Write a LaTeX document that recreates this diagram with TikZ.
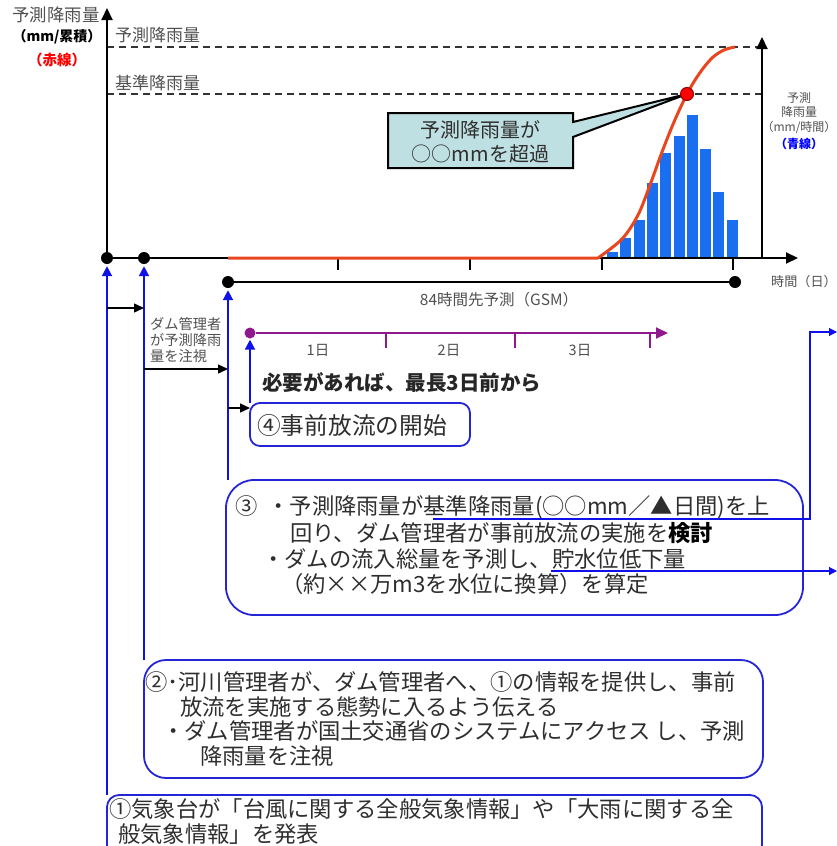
\documentclass[tikz,border=0pt]{standalone}
\usepackage{fontspec}
\setmainfont{Noto Sans CJK JP}
\usetikzlibrary{arrows.meta,calc}
\definecolor{txtc}{HTML}{2E2E2E}
\definecolor{lblc}{HTML}{505050}
\definecolor{redc}{HTML}{E8461E}
\definecolor{barc}{HTML}{1A6EF0}
\definecolor{arrb}{HTML}{1010E8}
\definecolor{boxb}{HTML}{2525D8}
\definecolor{purp}{HTML}{8E1A8E}
\definecolor{callf}{HTML}{BFE0E2}
\definecolor{dashc}{HTML}{333333}
\tikzset{
  bluebox/.style={draw=boxb, line width=1.8pt, rounded corners=#1, inner sep=0pt, outer sep=0pt, anchor=north west},
  upar/.style={draw=arrb, line width=2pt, -{Triangle[length=10pt,width=10pt]}},
  blkar/.style={draw=black, line width=1.4pt, -{Triangle[length=10pt,width=9pt]}},
  thinar/.style={draw=arrb, line width=1.1pt, -{Triangle[length=8pt,width=8pt]}},
  blackdot/.style={circle, fill=black, inner sep=0pt, minimum size=12pt},
  boxtext/.style={inner sep=0pt, anchor=west, text=txtc, font=\fontsize{22.3}{26}\selectfont},
  lbltext/.style={inner sep=0pt, text=lblc, font=\fontsize{#1}{#1}\selectfont},
  axisline/.style={draw=black, line width=2pt},
  axisar/.style={draw=black, line width=2pt, -{Triangle[length=12pt,width=11pt]}},
  guide/.style={draw=dashc, line width=1.8pt, dash pattern=on 7pt off 5pt},
  tickline/.style={draw=black, line width=1.8pt},
  ptick/.style={draw=purp, line width=2.6pt},
  reddot/.style={circle, fill=red, draw={rgb,255:red,150;green,0;blue,0}, line width=1pt, inner sep=0pt, minimum size=13pt},
}
\begin{document}
\begin{tikzpicture}[x=1pt,y=-1pt]
\useasboundingbox (0,0) rectangle (837,846);

% ---------- axis labels ----------
\node[lbltext=17.4] (ylab1) at (56,15) {予測降雨量};
\node[inner sep=0pt, font=\bfseries\fontsize{14}{14}\selectfont] (ylab2) at (57,37) {（mm/累積）};
\node[inner sep=0pt, text=red, font=\bfseries\fontsize{14.5}{14.5}\selectfont] (ylab3) at (57,60) {（赤線）};
\node[lbltext=17, anchor=west] (dl1) at (115,35) {予測降雨量};
\node[lbltext=17, anchor=west] (dl2) at (115,83) {基準降雨量};
\node[lbltext=12] (rl1) at (799,98) {予測};
\node[lbltext=12] (rl2) at (799,112) {降雨量};
\node[lbltext=12] (rl3) at (799,127) {（mm/時間）};
\node[inner sep=0pt, text=blue, font=\bfseries\fontsize{12}{12}\selectfont] (rl4) at (799,144) {（青線）};
\node[lbltext=13.1, anchor=west] (xlab) at (771,282) {時間（日）};

% ---------- guide lines ----------
\coordinate (g1s) at (107,47); \coordinate (g1e) at (762,47);
\coordinate (g2s) at (107,94); \coordinate (g2e) at (762,94);
\draw[guide] (g1s) -- (g1e);
\draw[guide] (g2s) -- (g2e);

% ---------- bars ----------
\foreach \i/\t in {0/252,1/238,2/220,3/183,4/153,5/136,6/115,7/149,8/192,9/220}
  \fill[barc] ({607+13.3*\i},258) rectangle ({618+13.3*\i},\t);

% ---------- axes ----------
\coordinate (origin) at (107,258);
\coordinate (ytop) at (107,8);
\coordinate (xend) at (798,258);
\coordinate (rbot) at (762,258);
\coordinate (rtop) at (762,37);
\draw[axisar] (rbot) -- (rtop);
\draw[axisar] (origin) -- (xend);
\draw[axisar] (origin) -- (ytop);
\foreach \x/\n in {338/a,470/b,602/c,733/d}{
  \coordinate (tk\n) at (\x,258);
  \draw[tickline] (tk\n) -- ++(0,12);
}

% ---------- red curve ----------
\coordinate (rs) at (228,258);
\draw[redc, line width=3pt, line join=round] (rs) -- (598,258) -- plot[smooth, tension=0.55] coordinates {(598,258) (622,239) (638,215) (650,185) (662,152) (674,122) (687,94) (699,74) (712,58) (724,50) (735,47)};

% ---------- callout ----------
\coordinate (rdot) at (687,94);
\coordinate (cNW) at (388,113);
\coordinate (cSE) at (573,168);
\filldraw[fill=callf, draw=black, line width=2pt, line join=miter]
  (cNW) -- (cNW -| cSE) -- ($(cNW -| cSE)+(0,9)$) -- (rdot) -- ($(cNW -| cSE)+(0,24)$) -- (cSE) -- (cSE -| cNW) -- cycle;
\node[reddot] (rdot2) at (rdot) {};
\node[inner sep=0pt, text=txtc, font=\fontsize{20}{24}\selectfont, align=center] (ctext) at (480.5,142) {予測降雨量が\\○○mmを超過};

% ---------- dots ----------
\node[blackdot] (dA) at (107,258) {};
\node[blackdot] (dB) at (144,258) {};
\node[blackdot] (dC) at (228,282) {};
\node[blackdot] (dD) at (735,282) {};
\draw[axisline] (dC) -- (dD);
\node[lbltext=15.5] (gsm) at (499,300) {84時間先予測（GSM）};

% ---------- purple scale ----------
\node[circle, fill=purp, inner sep=0pt, minimum size=11pt] (pS) at (250,333) {};
\coordinate (pE) at (668,333);
\draw[draw=purp, line width=2pt, -{Triangle[length=12pt,width=11pt]}] (pS) -- (pE);
\foreach \x/\n in {386/a,515/b,650/c}{
  \coordinate (pt\n) at (\x,334);
  \draw[ptick] (pt\n) -- ++(0,14);
}
\node[lbltext=14.5] (d1) at (318,350) {1日};
\node[lbltext=14.5] (d2) at (449,350) {2日};
\node[lbltext=14.5] (d3) at (580,350) {3日};

\node[inner sep=0pt, anchor=west, text=black!85, font=\bfseries\fontsize{20.5}{24}\selectfont] (need) at (262,383) {必要があれば、最長3日前から};

\node[lbltext=14.2, anchor=north west, align=left, font=\fontsize{14.2}{16.2}\selectfont] (watch) at (150,317) {ダム管理者\\が予測降雨\\量を注視};

% ---------- boxes ----------
\node[bluebox=12pt, minimum width=655pt, minimum height=62pt] (b1) at (107,795) {};
\node[bluebox=22pt, minimum width=619pt, minimum height=118pt] (b2) at (144,660) {};
\node[bluebox=28pt, minimum width=577pt, minimum height=135pt] (b3) at (226,480) {};
\node[bluebox=10pt, minimum width=220pt, minimum height=43pt] (b4) at (250,403) {};

% box 4 text
\node[boxtext, font=\fontsize{23.7}{26}\selectfont] (t4) at (257,425) {④事前放流の開始};

% box 3 text
\node[boxtext] (t3a) at (235,507) {③\hspace{10pt}・予測降雨量が基準降雨量(○○mm／▲日間)を上};
\node[boxtext] (t3b) at (290,533) {回り、ダム管理者が事前放流の実施を{\color{black}\bfseries 検討}};
\node[boxtext] (t3c) at (262,559) {・ダムの流入総量を予測し、貯水位低下量};
\node[boxtext] (t3d) at (281,584) {（約××万m3を水位に換算）を算定};

% box 2 text
\node[boxtext] (t2a) at (145,682) {②･河川管理者が、ダム管理者へ、①の情報を提供し、事前};
\node[boxtext] (t2b) at (180,707) {放流を実施する態勢に入るよう伝える};
\node[boxtext] (t2c) at (162,731) {・ダム管理者が国土交通省のシステムにアクセス し、予測};
\node[boxtext] (t2d) at (200,756) {降雨量を注視};

% box 1 text
\node[boxtext] (t1a) at (109,809) {①気象台が「台風に関する全般気象情報」や「大雨に関する全};
\node[boxtext] (t1b) at (118,834) {般気象情報」を発表};

% ---------- blue up arrows ----------
\draw[upar, shorten >=2pt] (b1.north -| dA) -- (dA);
\draw[upar, shorten >=2pt] (b2.north -| dB) -- (dB);
\draw[upar, shorten >=2pt] (b3.north -| dC) -- (dC);
\draw[upar, shorten >=1pt] (b4.north -| pS) -- (pS);

% ---------- black side arrows ----------
\coordinate (h1) at (107,308);
\coordinate (h2) at (144,369);
\coordinate (h3) at (228,408);
\draw[blkar] (h1) -- (h1 -| dB);
\draw[blkar] (h2) -- (h2 -| dC);
\draw[blkar] (h3) -- (h3 -| b4.west);

% ---------- thin blue lines to the right ----------
\coordinate (u1) at (433,519);
\coordinate (k1) at (810,332);
\coordinate (e1) at (837,332);
\coordinate (u2) at (551,571);
\coordinate (e2) at (837,571);
\draw[thinar] (u1) -| (k1) -- (e1);
\draw[thinar] (u2) -- (e2);
\end{tikzpicture}
\end{document}
